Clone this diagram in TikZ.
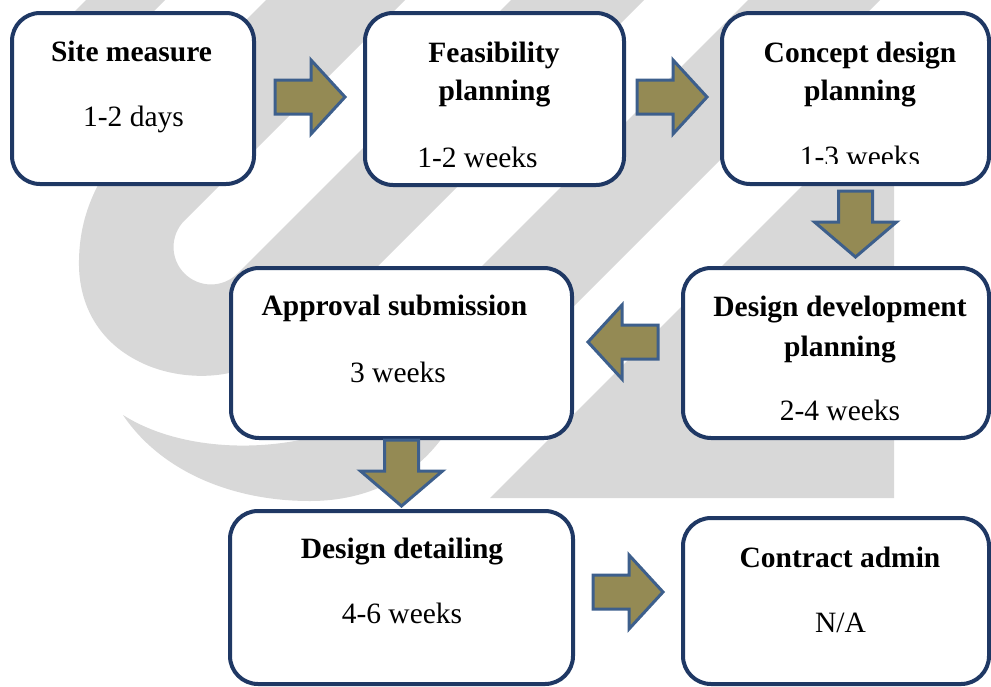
\documentclass[tikz,border=0pt]{standalone}
\usepackage{fontspec}
\setmainfont{Liberation Serif}
\usetikzlibrary{calc}
\definecolor{boxline}{HTML}{1F3864}
\definecolor{arrfill}{HTML}{948A54}
\definecolor{arrline}{HTML}{3D5F8C}
\definecolor{wmgray}{HTML}{D8D8D8}
\tikzset{
  wm/.style={fill=wmgray},
  stage/.style={draw=boxline, line width=4pt, fill=white, rounded corners=28pt, rectangle, inner sep=0pt},
  ttl/.style={font=\fontsize{29.5}{35}\selectfont\bfseries, anchor=base, inner sep=0pt},
  dur/.style={font=\fontsize{29.5}{35}\selectfont, anchor=base, inner sep=0pt},
  blk/.style={fill=arrfill, draw=arrline, line width=3pt, line join=miter},
  pics/harrow/.style={code={\filldraw[blk] (-35,-17) -- (1,-17) -- (1,-37) -- (35,0) -- (1,37) -- (1,17) -- (-35,17) -- cycle;}},
  pics/varrow/.style={code={\filldraw[blk] (-33,-17) -- (-2,-17) -- (-2,-41) -- (33,0) -- (-2,41) -- (-2,17) -- (-33,17) -- cycle;}},
}
\begin{document}
\begin{tikzpicture}[x=1pt,y=-1pt]
\useasboundingbox (0,0) rectangle (991,686);
\fill[white] (0,0) rectangle (991,686);
% watermark
\fill[wm] (86,0) -- (165,0) -- (100,65) -- (21,65) -- cycle;
\fill[wm] (266,0) -- (146,120) .. controls (110,160) and (80,200) .. (79,260)
  .. controls (78,300) and (95,340) .. (140,362)
  .. controls (170,377) and (210,380) .. (240,370)
  .. controls (270,360) and (300,340) .. (320,324)
  -- (644,0) -- (511,0) -- (237.5,273.5)
  .. controls (222.9,288.1) and (199.1,288.1) .. (184.5,273.5)
  .. controls (169.9,258.9) and (169.9,235.1) .. (184.5,220.5)
  -- (405,0) -- cycle;
\fill[wm] (748,0) -- (880,0) -- (442,438)
  .. controls (415,475) and (370,501) .. (310,501)
  .. controls (230,501) and (160,470) .. (123,415)
  .. controls (170,445) and (240,452) .. (300,440)
  .. controls (320,435) and (335,418) .. (345,403) -- cycle;
\fill[wm] (894,94) -- (894,498) -- (490,498) -- cycle;
% boxes
\node[stage, minimum width=242pt, minimum height=171pt] (b1) at (133,98.5) {};
\node[stage, minimum width=259pt, minimum height=172pt] (b2) at (494.5,99) {};
\node[stage, minimum width=267pt, minimum height=171pt] (b3) at (855.5,98.5) {};
\node[stage, minimum width=306pt, minimum height=170pt] (b4) at (836,353) {};
\node[stage, minimum width=341pt, minimum height=170pt] (b5) at (401.5,353) {};
\node[stage, minimum width=343pt, minimum height=173pt] (b6) at (401.5,597.5) {};
\node[stage, minimum width=306pt, minimum height=166pt] (b7) at (836,601) {};
% arrows
\pic at ($(b1.east)!0.5!(b2.west)+(0.5,-1.75)$) {harrow};
\pic at ($(b2.east)!0.5!(b3.west)+(-1,-1.75)$) {harrow};
\pic[rotate=-90] at ($(b3.south)+(0,38)$) {varrow};
\pic[rotate=180] at ($(b4.west)+(-58,-11)$) {harrow};
\pic[rotate=-90] at ($(b5.south)+(0,33)$) {varrow};
\pic at ($(b6.east)+(53,-5.5)$) {harrow};
% texts
\node[ttl] (t1) at (131.5,61) {Site measure};
\node[dur] (d1) at (133.5,126) {1-2 days};
\node[ttl] (t2a) at (494,62) {Feasibility};
\node[ttl] (t2b) at (494.5,100) {planning};
\node[dur] (d2) at (477.5,167) {1-2 weeks};
\node[ttl] (t3a) at (860,62) {Concept design};
\node[ttl] (t3b) at (860,100) {planning};
\begin{scope}
  \clip (722,130) rectangle (989,163.5);
  \node[dur] (d3) at (860,166.5) {1-3 weeks};
\end{scope}
\node[ttl] (t4a) at (840,316) {Design development};
\node[ttl] (t4b) at (840,356) {planning};
\node[dur] (d4) at (840,420) {2-4 weeks};
\node[ttl] (t5) at (394.5,315) {Approval submission};
\node[dur] (d5) at (398,382) {3 weeks};
\node[ttl] (t6) at (402,558) {Design detailing};
\node[dur] (d6) at (402,623) {4-6 weeks};
\node[ttl] (t7) at (840,567) {Contract admin};
\node[dur] (d7) at (840.5,632) {N/A};
\end{tikzpicture}
\end{document}
